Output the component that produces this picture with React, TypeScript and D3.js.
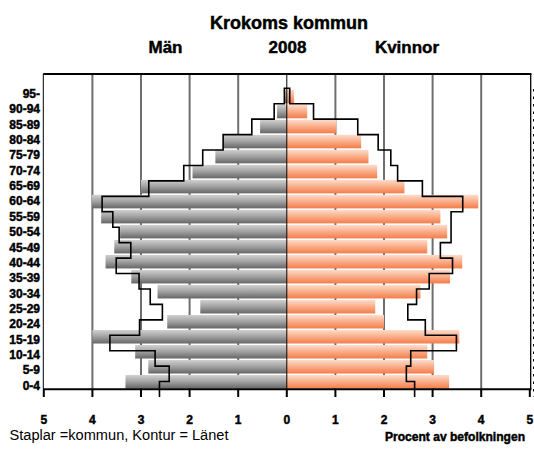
import React from "react";
import * as d3 from "d3";

const ageGroups = ["0-4","5-9","10-14","15-19","20-24","25-29","30-34","35-39","40-44","45-49","50-54","55-59","60-64","65-69","70-74","75-79","80-84","85-89","90-94","95-"];
const menKommun = [3.32,2.85,3.12,4.0,2.46,1.78,2.66,3.2,3.73,3.55,3.43,3.82,4.01,3.0,1.94,1.47,1.31,0.55,0.2,0.06];
const womenKommun = [3.34,3.03,2.89,3.55,2.0,1.82,2.75,3.36,3.61,2.89,3.3,3.16,3.94,2.42,1.86,1.68,1.53,1.02,0.42,0.15];
const menLan = [2.62,2.42,2.71,3.64,3.03,2.56,2.81,3.04,3.51,3.21,3.45,3.58,3.8,2.84,2.12,1.73,1.31,0.72,0.26,0.05];
const womenLan = [2.63,2.46,2.55,3.49,2.85,2.49,2.67,2.93,3.41,3.16,3.38,3.38,3.62,2.79,2.28,2.14,1.88,1.46,0.55,0.06];
const xTicks = [-5,-4,-3,-2,-1,0,1,2,3,4,5];
const gridValues = [-4,-3,-2,-1,1,2,3,4];
const titleText = "Krokoms kommun";
const leftLabel = "Män";
const yearLabel = "2008";
const rightLabel = "Kvinnor";
const noteText = "Staplar =kommun, Kontur = Länet";
const unitText = "Procent av befolkningen";

const FONT = "'Liberation Sans', Arial, sans-serif";

export default function App() {
  const W = 534, H = 454;
  const plotTop = 74, plotBottom = 389.3, plotLeft = 43.3, plotRight = 530.7;
  const x = d3.scaleLinear().domain([-5, 5]).range([43.8, 529.8]);
  const topDown = [...ageGroups].reverse();
  const yBar = d3.scaleBand<string>().domain(["", ...topDown]).range([plotTop, plotBottom]).paddingInner(0.1).paddingOuter(0.05);
  const yC = d3.scaleBand<string>().domain(topDown).range([88.3, 397]);
  const yL = d3.scalePoint<string>().domain(topDown).range([93.5, 385.5]);
  const bwC = yC.bandwidth();

  const pts: [number, number][] = [];
  for (let i = 0; i < ageGroups.length; i++) {
    const g = ageGroups[i];
    const top = yC(g)!;
    const xv = x(-menLan[i]);
    pts.push([xv, top + bwC]);
    pts.push([xv, top]);
  }
  for (let i = ageGroups.length - 1; i >= 0; i--) {
    const g = ageGroups[i];
    const top = yC(g)!;
    const xv = x(womenLan[i]);
    pts.push([xv, top]);
    pts.push([xv, top + bwC]);
  }
  const contour = d3.line()(pts) || "";

  const cx = x(0);
  const heavy = { stroke: "#000", strokeWidth: 0.45 } as const;

  return (
    <svg width={W} height={H} style={{ position: "absolute", left: 0, top: 0, background: "#fff" }} fontFamily={FONT}>
      <defs>
        <linearGradient id="gGray" x1="0" y1="0" x2="0" y2="1">
          <stop offset="0" stopColor="#d0d0d0" />
          <stop offset="0.5" stopColor="#a0a0a0" />
          <stop offset="1" stopColor="#666666" />
        </linearGradient>
        <linearGradient id="gOrange" x1="0" y1="0" x2="0" y2="1">
          <stop offset="0" stopColor="#fddccb" />
          <stop offset="0.5" stopColor="#f9ac88" />
          <stop offset="1" stopColor="#f47d4a" />
        </linearGradient>
      </defs>

      {gridValues.map((v) => (
        <line key={"g" + v} x1={x(v)} x2={x(v)} y1={plotTop} y2={plotBottom} stroke="#6e6e6e" strokeWidth={2} />
      ))}

      {ageGroups.map((g, i) => (
        <g key={"b" + g}>
          <rect x={x(-menKommun[i])} y={yBar(g)} width={cx - x(-menKommun[i])} height={yBar.bandwidth()} fill="url(#gGray)" />
          <rect x={cx} y={yBar(g)} width={x(womenKommun[i]) - cx} height={yBar.bandwidth()} fill="url(#gOrange)" />
        </g>
      ))}

      <line x1={cx} x2={cx} y1={plotTop} y2={plotBottom} stroke="#000" strokeWidth={1} />

      <path d={contour} fill="none" stroke="#000" strokeWidth={1.6} />

      <line x1={plotLeft} x2={plotLeft} y1={plotTop} y2={plotBottom} stroke="#000" strokeWidth={1} />
      <line x1={plotLeft} x2={plotRight + 0.7} y1={plotTop} y2={plotTop} stroke="#000" strokeWidth={2} />
      <line x1={plotRight} x2={plotRight} y1={plotTop} y2={plotBottom} stroke="#000" strokeWidth={1.3} />
      <line x1={plotLeft} x2={plotRight + 0.7} y1={plotBottom} y2={plotBottom} stroke="#000" strokeWidth={2} />
      <line x1={533.5} x2={533.5} y1={89} y2={397} stroke="#000" strokeWidth={1} strokeDasharray="2.5,5" />

      {xTicks.map((v) => (
        <g key={"t" + v}>
          <line x1={x(v)} x2={x(v)} y1={plotBottom} y2={397} stroke="#000" strokeWidth={2} />
          <text x={x(v)} y={424} textAnchor="middle" fontSize={12} fontWeight="bold" {...heavy}>{Math.abs(v)}</text>
        </g>
      ))}

      {topDown.map((g) => (
        <text key={"l" + g} x={40} y={yL(g)} dy="0.36em" textAnchor="end" fontSize={12} fontWeight="bold" {...heavy}>{g}</text>
      ))}

      <text x={289} y={29} textAnchor="middle" fontSize={18} fontWeight="bold" textLength={158} lengthAdjust="spacingAndGlyphs" {...heavy}>{titleText}</text>
      <text x={165.5} y={53} textAnchor="middle" fontSize={17} fontWeight="bold" {...heavy}>{leftLabel}</text>
      <text x={287.5} y={53} textAnchor="middle" fontSize={17} fontWeight="bold" {...heavy}>{yearLabel}</text>
      <text x={407} y={53} textAnchor="middle" fontSize={17} fontWeight="bold" {...heavy}>{rightLabel}</text>

      <text x={9.5} y={440} fontSize={14} textLength={219} lengthAdjust="spacingAndGlyphs">{noteText}</text>
      <text x={385} y={441} fontSize={12} fontWeight="bold" textLength={140} lengthAdjust="spacingAndGlyphs" {...heavy}>{unitText}</text>
    </svg>
  );
}
